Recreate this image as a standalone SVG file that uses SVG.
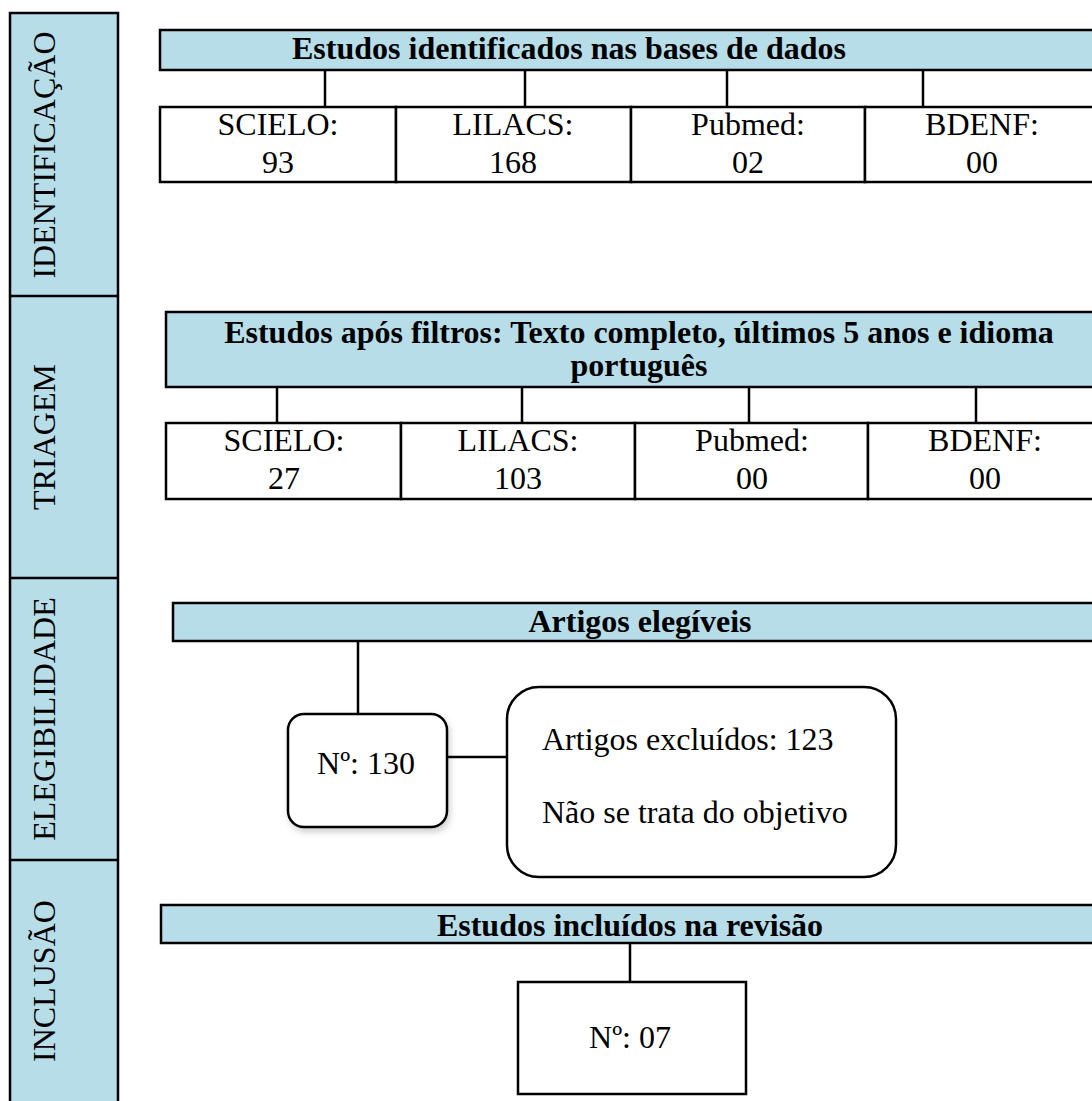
<svg xmlns="http://www.w3.org/2000/svg" width="1092" height="1101" viewBox="0 0 1092 1101">
<style>
  .hdr { fill: #b7dde8; stroke: #000; stroke-width: 2.5; }
  .cell { fill: #fff; stroke: #000; stroke-width: 2.5; }
  .ln { stroke: #000; stroke-width: 2.5; fill: none; }
  .side { fill: #b7dde8; stroke: #000; stroke-width: 2.5; }
  text { font-family: "Liberation Serif", "Times New Roman", serif; font-size: 32px; fill: #000; }
  .b { font-weight: bold; }
  .c { text-anchor: middle; }
</style>
<defs>
  <filter id="sh" x="-20%" y="-20%" width="150%" height="150%">
    <feDropShadow dx="2" dy="4" stdDeviation="3" flood-color="#000" flood-opacity="0.18"/>
  </filter>
</defs>
<rect width="1092" height="1101" fill="#fff"/>

<g id="sidebar">
  <rect class="side" x="10" y="13" width="108" height="1100"/>
  <line class="ln" x1="10" y1="296" x2="118" y2="296"/>
  <line class="ln" x1="10" y1="578" x2="118" y2="578"/>
  <line class="ln" x1="10" y1="860" x2="118" y2="860"/>
  <text class="c" transform="translate(55,155) rotate(-90)">IDENTIFICAÇÃO</text>
  <text class="c" transform="translate(55,437) rotate(-90)">TRIAGEM</text>
  <text class="c" transform="translate(55,719) rotate(-90)">ELEGIBILIDADE</text>
  <text class="c" transform="translate(55,981) rotate(-90)">INCLUSÃO</text>
</g>

<g id="connectors">
  <line class="ln" x1="325" y1="70" x2="325" y2="107"/>
  <line class="ln" x1="525" y1="70" x2="525" y2="107"/>
  <line class="ln" x1="727" y1="70" x2="727" y2="107"/>
  <line class="ln" x1="923" y1="70" x2="923" y2="107"/>
  <line class="ln" x1="277" y1="387" x2="277" y2="423"/>
  <line class="ln" x1="522" y1="387" x2="522" y2="423"/>
  <line class="ln" x1="749" y1="387" x2="749" y2="423"/>
  <line class="ln" x1="976" y1="387" x2="976" y2="423"/>
  <line class="ln" x1="358" y1="641" x2="358" y2="714"/>
  <line class="ln" x1="447" y1="757" x2="507" y2="757"/>
  <line class="ln" x1="630" y1="943" x2="630" y2="982"/>
</g>

<g id="n-identificados">
  <rect class="hdr" x="160" y="30" width="945" height="40"/>
  <text class="b" x="292" y="59">Estudos identificados nas bases de dados</text>
</g>
<g id="n-ident-row">
  <rect class="cell" x="160" y="107" width="236" height="75"/>
  <rect class="cell" x="396" y="107" width="235" height="75"/>
  <rect class="cell" x="631" y="107" width="234" height="75"/>
  <rect class="cell" x="865" y="107" width="240" height="75"/>
  <text class="c" x="278" y="135">SCIELO:</text>
  <text class="c" x="278" y="173">93</text>
  <text class="c" x="513" y="135">LILACS:</text>
  <text class="c" x="513" y="173">168</text>
  <text class="c" x="748" y="135">Pubmed:</text>
  <text class="c" x="748" y="173">02</text>
  <text class="c" x="982" y="135">BDENF:</text>
  <text class="c" x="982" y="173">00</text>
</g>

<g id="n-triagem">
  <rect class="hdr" x="166" y="312" width="945" height="75"/>
  <text class="b c" x="639" y="343">Estudos após filtros: Texto completo, últimos 5 anos e idioma</text>
  <text class="b c" x="639" y="376">português</text>
</g>
<g id="n-triagem-row">
  <rect class="cell" x="166" y="423" width="235" height="76"/>
  <rect class="cell" x="401" y="423" width="234" height="76"/>
  <rect class="cell" x="635" y="423" width="233" height="76"/>
  <rect class="cell" x="868" y="423" width="240" height="76"/>
  <text class="c" x="284" y="451">SCIELO:</text>
  <text class="c" x="284" y="489">27</text>
  <text class="c" x="518" y="451">LILACS:</text>
  <text class="c" x="518" y="489">103</text>
  <text class="c" x="752" y="451">Pubmed:</text>
  <text class="c" x="752" y="489">00</text>
  <text class="c" x="985" y="451">BDENF:</text>
  <text class="c" x="985" y="489">00</text>
</g>

<g id="n-elegiveis">
  <rect class="hdr" x="173" y="603" width="940" height="38"/>
  <text class="b c" x="640" y="632">Artigos elegíveis</text>
</g>
<g id="n-130">
  <rect class="cell" x="288" y="714" width="159" height="113" rx="16" filter="url(#sh)"/>
  <text class="c" x="366" y="774">Nº: 130</text>
</g>
<g id="n-excluidos">
  <rect class="cell" x="507" y="687" width="389" height="190" rx="32"/>
  <text x="542" y="750">Artigos excluídos: 123</text>
  <text x="542" y="823">Não se trata do objetivo</text>
</g>

<g id="n-incluidos">
  <rect class="hdr" x="161" y="905" width="940" height="38"/>
  <text class="b c" x="630" y="936">Estudos incluídos na revisão</text>
</g>
<g id="n-07">
  <rect class="cell" x="518" y="982" width="228" height="112"/>
  <text class="c" x="630" y="1048">Nº: 07</text>
</g>
</svg>
